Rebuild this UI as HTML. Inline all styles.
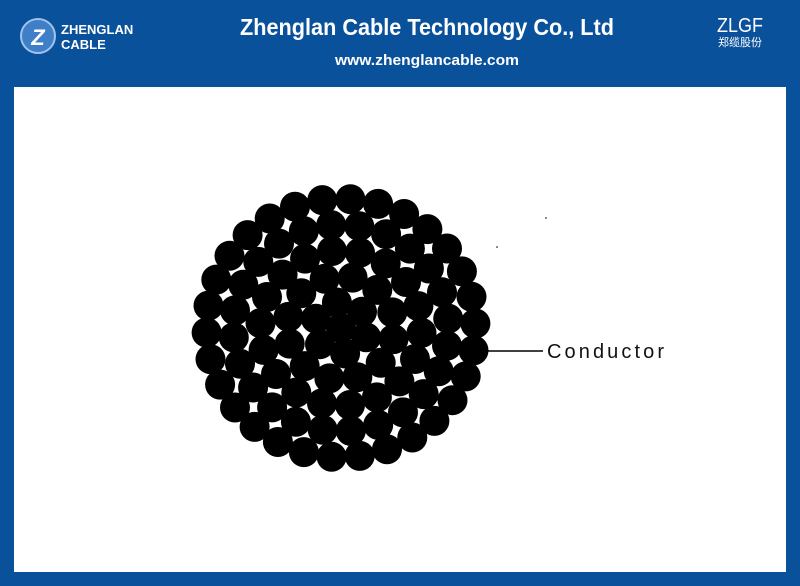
<!DOCTYPE html>
<html><head><meta charset="utf-8"><style>
html,body{margin:0;padding:0;width:800px;height:586px;overflow:hidden;background:#0a519b;font-family:"Liberation Sans",sans-serif}
.hdr{position:absolute;left:0;top:0;width:800px;height:87px}
.panel{position:absolute;left:14px;top:87px;width:772px;height:485px;background:#fff}
</style></head><body>
<div class="hdr">
<svg width="800" height="87">
 <circle cx="38" cy="36" r="17" fill="#3f7fc8" stroke="#9fc3ea" stroke-width="2"/>
 <text x="38" y="45" fill="#fff" font-size="22" font-weight="bold" font-style="italic" text-anchor="middle" font-family="Liberation Sans">Z</text>
 <text x="61" y="34" fill="#fff" font-size="13" font-weight="bold">ZHENGLAN</text>
 <text x="61" y="49" fill="#fff" font-size="13" font-weight="bold">CABLE</text>
 <text x="427" y="35" fill="#fff" font-size="23" font-weight="bold" text-anchor="middle" textLength="374" lengthAdjust="spacingAndGlyphs">Zhenglan Cable Technology Co., Ltd</text>
 <text x="427" y="65" fill="#fff" font-size="15" font-weight="bold" text-anchor="middle" textLength="184" lengthAdjust="spacingAndGlyphs">www.zhenglancable.com</text>
 <text x="740" y="32" fill="#fff" font-size="20" text-anchor="middle" textLength="46" lengthAdjust="spacingAndGlyphs">ZLGF</text>
 <text x="740" y="46" fill="#fff" font-size="11" text-anchor="middle" font-family="Liberation Sans,'Noto Sans CJK SC',sans-serif" textLength="44" lengthAdjust="spacingAndGlyphs">郑缆股份</text>
</svg>
</div>
<div class="panel"></div>
<svg id="d" width="800" height="586" style="position:absolute;left:0;top:0">
 <line x1="485" y1="351" x2="543" y2="351" stroke="#000" stroke-width="1.5"/>
 <text x="547" y="358" font-size="20" fill="#111" textLength="117" lengthAdjust="spacing">Conductor</text>
 <circle cx="546" cy="218" r="0.8" fill="#000"/><circle cx="497" cy="247" r="0.8" fill="#000"/>
</svg>
<script>
var s=document.getElementById('d'),ns='http://www.w3.org/2000/svg';
var cx=341,cy=328,d=26.9,r=15;
function c(x,y){var e=document.createElementNS(ns,'circle');e.setAttribute('cx',x.toFixed(1));e.setAttribute('cy',y.toFixed(1));e.setAttribute('r',r);e.setAttribute('fill','#000');s.appendChild(e);}
c(cx,cy);
for(var k=1;k<=5;k++){var n=6*k,R=k*d,off=k*0.37;for(var i=0;i<n;i++){var a=off+2*Math.PI*i/n;c(cx+R*Math.cos(a),cy+R*0.96*Math.sin(a));}}
</script>
</body></html>
